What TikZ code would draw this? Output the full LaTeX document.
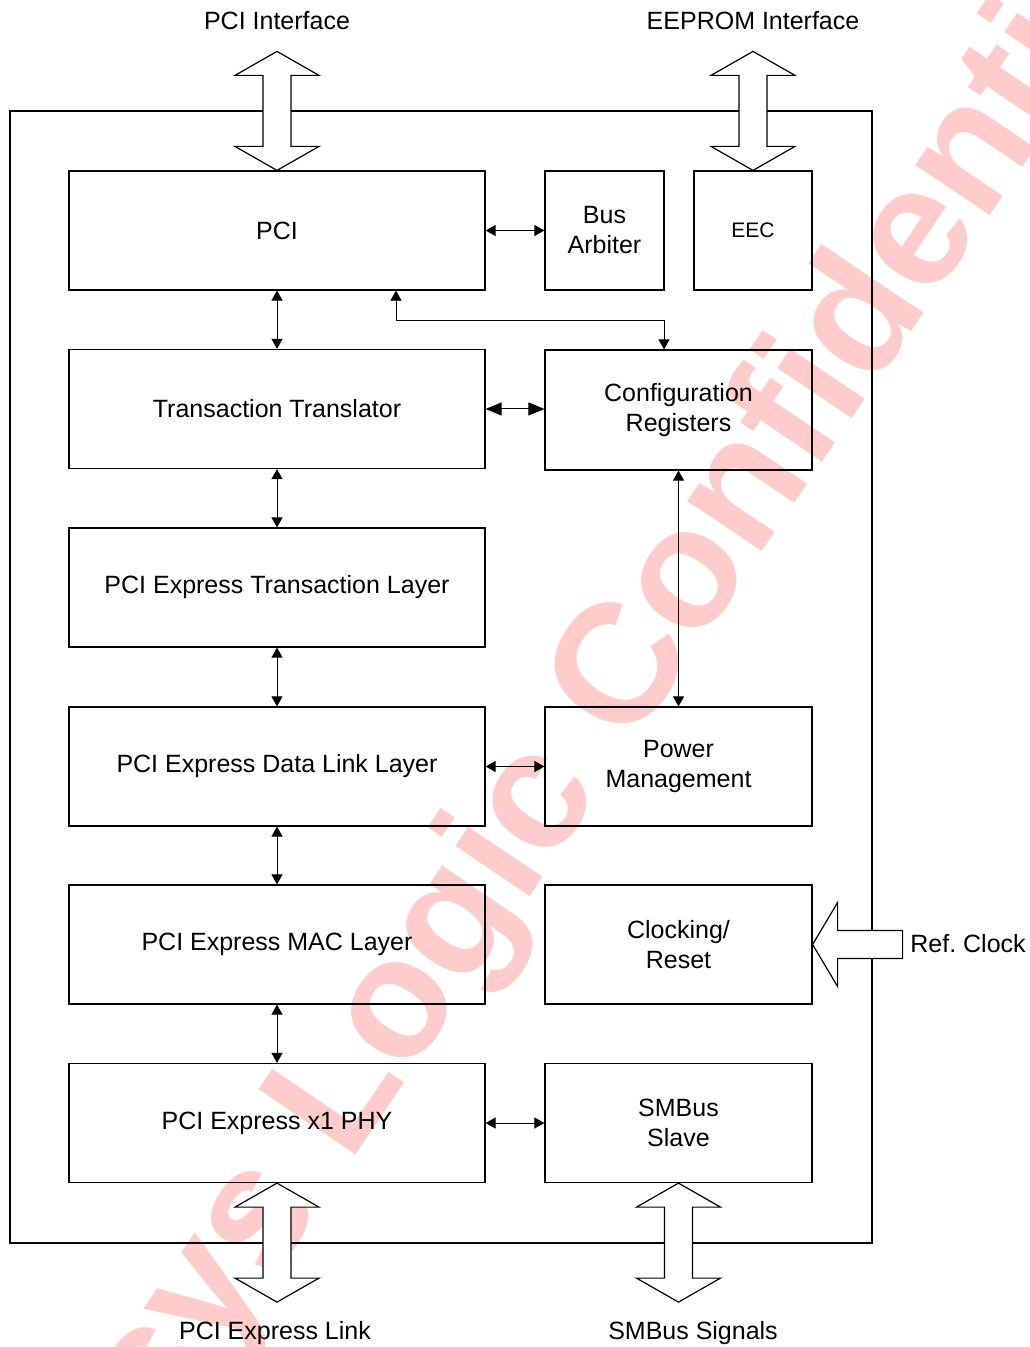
\documentclass[tikz,border=0pt]{standalone}
\usepackage{fontspec}
\setmainfont{Liberation Sans}
\usetikzlibrary{arrows.meta}
\definecolor{wmark}{RGB}{255,204,204}

\begin{document}
\begin{tikzpicture}[x=0.5pt, y=-0.5pt,
  font=\fontsize{12.5pt}{15pt}\selectfont,
  blk/.style={draw, line width=0.6pt, align=center, inner sep=0pt, minimum height=59.5pt},
  wide/.style={blk, minimum width=208pt},
  side/.style={blk, minimum width=133.5pt},
  small/.style={blk, minimum width=59.5pt},
  lbl/.style={inner sep=0pt, text height=9pt, text depth=0pt},
  link/.style={{Triangle[length=5pt,width=5.5pt]}-{Triangle[length=5pt,width=5.5pt]}, line width=0.5pt},
  biglink/.style={{Triangle[length=8pt,width=6.5pt]}-{Triangle[length=8pt,width=6.5pt]}, line width=0.5pt},
  fat/.style={draw, line width=0.6pt, fill=white, line join=miter}]
  \useasboundingbox (0,0) rectangle (1029,1347);
  \node[text=wmark, rotate=56, anchor=base west, inner sep=0pt,
    font=\bfseries\fontsize{85pt}{85pt}\selectfont] (mark) at (629,750) {\llap{Genesys Logic }Confidential};

  \node[draw, line width=0.6pt, minimum width=431pt, minimum height=566pt] (chip) at (441,677) {};

  \node[wide] (pci) at (277,230.5) {PCI};
  \node[small] (arb) at (604.5,230.5) {Bus\\Arbiter};
  \node[small, minimum width=59pt, font=\fontsize{10.5pt}{12pt}\selectfont] (eec) at (753,230.5) {EEC};
  \node[wide] (tt) at (277,409) {Transaction Translator};
  \node[side, minimum height=60pt] (cfg) at (678.5,410) {Configuration\\Registers};
  \node[wide] (tl) at (277,587.5) {PCI Express Transaction Layer};
  \node[wide] (dll) at (277,766.5) {PCI Express Data Link Layer};
  \node[side] (pm) at (678.5,766.5) {Power\\Management};
  \node[wide] (mac) at (277,944.5) {PCI Express MAC Layer};
  \node[side] (clk) at (678.5,944.5) {Clocking/\\Reset};
  \node[wide] (phy) at (277,1123) {PCI Express x1 PHY};
  \node[side] (smb) at (678.5,1123) {SMBus\\Slave};

  \draw[link] (pci) -- (arb);
  \draw[link] (pci) -- (tt);
  \draw[biglink] (tt.east) -- (tt.east -| cfg.west);
  \draw[link] (tt) -- (tl);
  \draw[link] (tl) -- (dll);
  \draw[link] (dll) -- (pm);
  \draw[link] (dll) -- (mac);
  \draw[link] (mac) -- (phy);
  \draw[link] (phy) -- (smb);
  \draw[link] (cfg) -- (pm);
  \draw[link] ([xshift=59.5pt]pci.south) -- ++(0,30) -| ([xshift=-7.25pt]cfg.north);

  \foreach \a/\s in {pci.north/-1, eec.north/-1, phy.south/1, smb.south/1}
    \draw[fat] (\a) -- ++(42,24*\s) -- ++(-28,0) -- ++(0,71*\s) -- ++(28,0) -- ++(-42,24*\s)
      -- ++(-42,-24*\s) -- ++(28,0) -- ++(0,-71*\s) -- ++(-28,0) -- cycle;
  \draw[fat] (clk.east) -- ++(25,-42) -- ++(0,28) -- ++(65,0) -- ++(0,28) -- ++(-65,0) -- ++(0,28) -- cycle;

  \node[lbl] (pciif) at (277,21) {PCI Interface};
  \node[lbl] (eepif) at (753,21) {EEPROM Interface};
  \node[lbl] (pcielink) at (275,1330) {PCI Express Link};
  \node[lbl] (smbsig) at (693,1330) {SMBus Signals};
  \node[lbl, anchor=west] (refclk) at (910,943) {Ref.\ Clock};
\end{tikzpicture}
\end{document}
